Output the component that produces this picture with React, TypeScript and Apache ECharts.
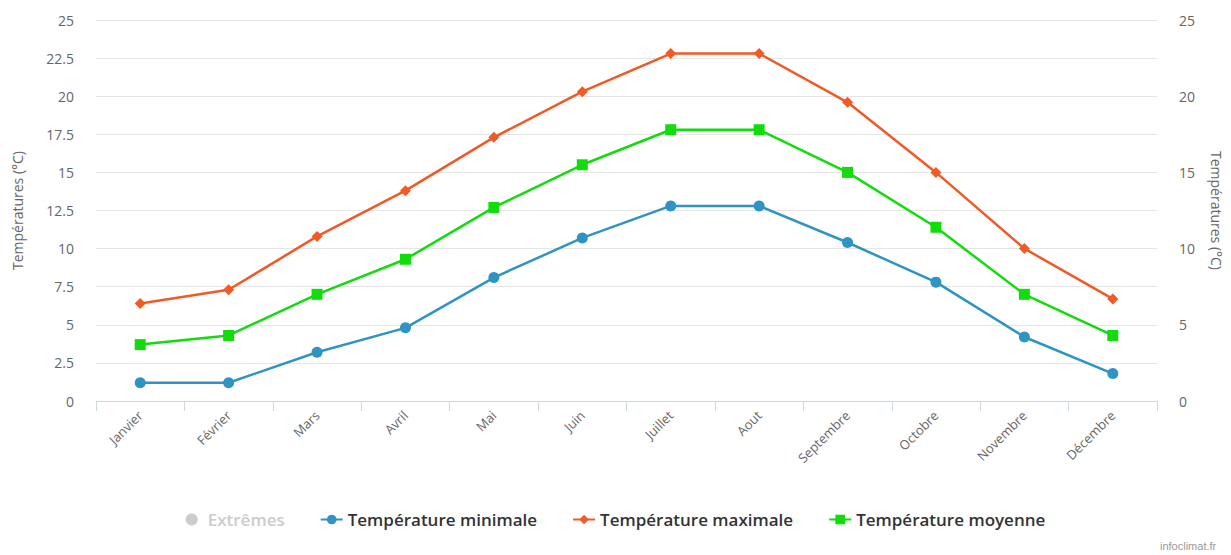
import React, { useEffect, useRef } from "react";
import * as echarts from "echarts";

const months = ["Janvier", "Février", "Mars", "Avril", "Mai", "Juin", "Juillet", "Aout", "Septembre", "Octobre", "Novembre", "Décembre"];
const tempMin = [1.2, 1.2, 3.2, 4.8, 8.1, 10.7, 12.8, 12.8, 10.4, 7.8, 4.2, 1.8];
const tempMax = [6.4, 7.3, 10.8, 13.8, 17.3, 20.3, 22.8, 22.8, 19.6, 15.0, 10.0, 6.7];
const tempMoy = [3.7, 4.3, 7.0, 9.3, 12.7, 15.5, 17.8, 17.8, 15.0, 11.4, 7.0, 4.3];

const COL_MIN = "#2f94c4";
const COL_MAX = "#ef5a26";
const COL_MOY = "#12dc0c";
const FONT = "'Open Sans', 'DejaVu Sans', sans-serif";

export default function App() {
  const ref = useRef<HTMLDivElement>(null);
  useEffect(() => {
    if (!ref.current) return;
    const chart = echarts.init(ref.current, null, { renderer: "svg" });
    chart.setOption({
      animation: false,
      textStyle: { fontFamily: FONT },
      grid: { left: 96, right: 73, top: 20, bottom: 154 },
      legend: {
        bottom: 22,
        left: "center",
        itemGap: 35,
        itemWidth: 22,
        itemHeight: 12,
        textStyle: { fontSize: 17, fontWeight: 600, color: "#333", fontFamily: "'Open Sans', sans-serif" },
        inactiveColor: "#cccccc",
        selected: { "Extrêmes": false },
        data: [
          { name: "Extrêmes", icon: "circle" },
          { name: "Température minimale" },
          { name: "Température maximale" },
          { name: "Température moyenne" },
        ],
      },
      xAxis: {
        type: "category",
        data: months,
        boundaryGap: true,
        axisLine: { lineStyle: { color: "#ccd6eb", width: 1 } },
        axisTick: { show: true, length: 10, lineStyle: { color: "#ccd6eb" } },
        axisLabel: { rotate: 45, color: "#666", fontSize: 13, margin: 12, interval: 0 },
        splitLine: { show: false },
      },
      yAxis: [
        {
          type: "value",
          min: 0,
          max: 25,
          interval: 2.5,
          name: "Températures (°C)",
          nameLocation: "middle",
          nameGap: 72,
          nameTextStyle: { color: "#666", fontSize: 14 },
          axisLine: { show: false },
          axisTick: { show: false },
          axisLabel: { color: "#666", fontSize: 14, margin: 22 },
          splitLine: { lineStyle: { color: "#e6e6e6" } },
        },
        {
          type: "value",
          position: "right",
          min: 0,
          max: 25,
          interval: 5,
          name: "Températures (°C)",
          nameLocation: "middle",
          nameRotate: -90,
          nameGap: 52,
          nameTextStyle: { color: "#666", fontSize: 14 },
          axisLine: { show: false },
          axisTick: { show: false },
          axisLabel: { color: "#666", fontSize: 14, margin: 22 },
          splitLine: { show: false },
        },
      ],
      series: [
        { name: "Extrêmes", type: "line", data: [], itemStyle: { color: "#999" } },
        {
          name: "Température minimale",
          type: "line",
          data: tempMin,
          symbol: "circle",
          symbolSize: 11,
          lineStyle: { color: COL_MIN, width: 2.5 },
          itemStyle: { color: COL_MIN },
        },
        {
          name: "Température maximale",
          type: "line",
          data: tempMax,
          symbol: "diamond",
          symbolSize: 11,
          lineStyle: { color: COL_MAX, width: 2.5 },
          itemStyle: { color: COL_MAX },
        },
        {
          name: "Température moyenne",
          type: "line",
          data: tempMoy,
          symbol: "rect",
          symbolSize: 11,
          lineStyle: { color: COL_MOY, width: 2.5 },
          itemStyle: { color: COL_MOY },
        },
      ],
      graphic: [
        {
          type: "text",
          left: 1160,
          top: 540,
          style: { text: "infoclimat.fr", fill: "#999", font: "11px 'Liberation Sans', sans-serif" },
        },
      ],
    });
    return () => chart.dispose();
  }, []);
  return <div ref={ref} style={{ width: 1231, height: 555, position: "absolute", left: 0, top: 0 }} />;
}
